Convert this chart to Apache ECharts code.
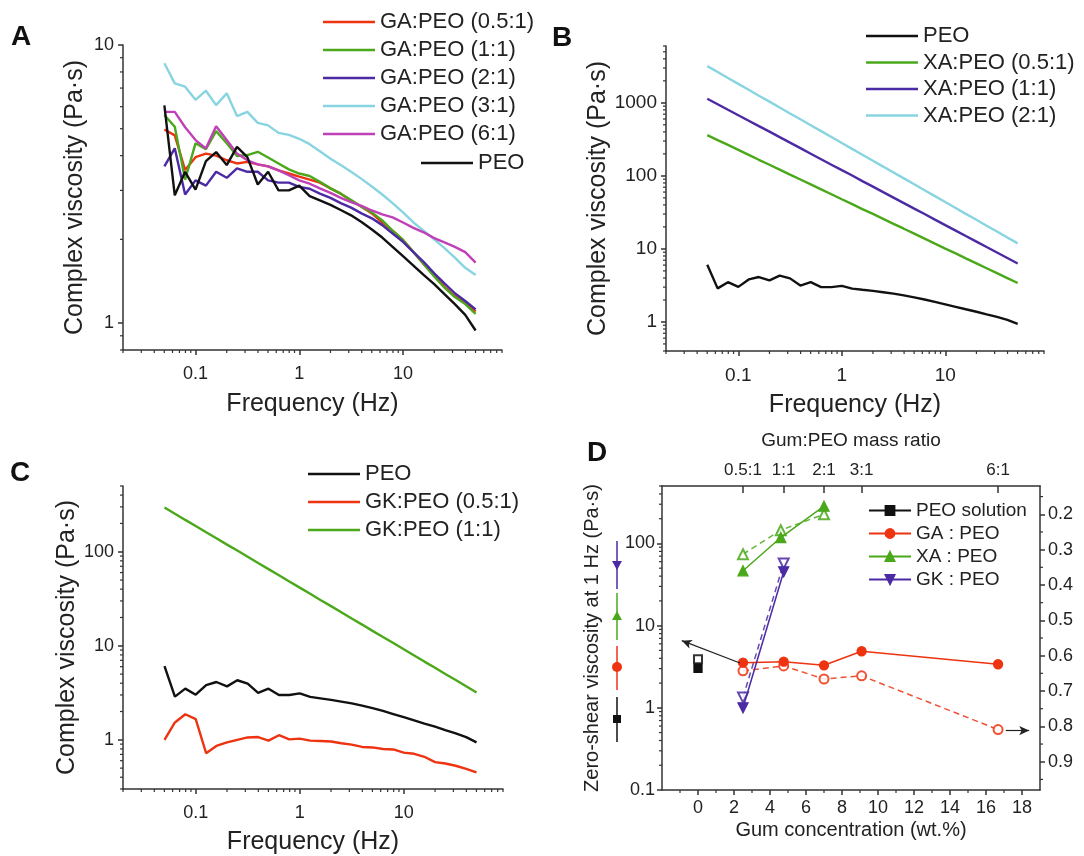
<!DOCTYPE html>
<html><head><meta charset="utf-8">
<script src="https://cdn.jsdelivr.net/npm/echarts@6/dist/echarts.min.js"></script>
<style>html,body{margin:0;padding:0;background:#fff}#chart{width:1084px;height:856px}</style>
</head><body><div id="chart"></div>
<script>
// ---------- DATA ----------
const freq = [0.0501, 0.0631, 0.0794, 0.1, 0.126, 0.158, 0.2, 0.251, 0.316, 0.398, 0.501, 0.631, 0.794, 1, 1.26, 1.58, 2, 2.51, 3.16, 3.98, 5.01, 6.31, 7.94, 10, 12.6, 15.8, 20, 25.1, 31.6, 39.8, 50.1];

const peo = [6.07, 2.88, 3.5, 3.02, 3.82, 4.12, 3.7, 4.3, 3.95, 3.15, 3.5, 3.0, 3.0, 3.12, 2.86, 2.76, 2.66, 2.55, 2.44, 2.31, 2.17, 2.03, 1.88, 1.74, 1.61, 1.49, 1.38, 1.27, 1.17, 1.07, 0.94];

// Panel A: GA:PEO
const ga05 = [4.97, 4.73, 3.55, 3.95, 4.07, 4.0, 3.85, 3.75, 3.8, 3.72, 3.66, 3.54, 3.45, 3.36, 3.28, 3.2, 3.05, 2.92, 2.76, 2.62, 2.48, 2.3, 2.15, 1.99, 1.8, 1.63, 1.49, 1.35, 1.25, 1.18, 1.1];
const ga1 = [5.6, 5.08, 3.28, 4.43, 4.22, 4.9, 4.43, 3.99, 4.02, 4.13, 3.94, 3.75, 3.57, 3.45, 3.38, 3.22, 3.05, 2.92, 2.77, 2.62, 2.5, 2.34, 2.15, 1.99, 1.8, 1.63, 1.47, 1.34, 1.24, 1.17, 1.08];
const ga2 = [3.66, 4.25, 2.9, 3.26, 3.12, 3.5, 3.33, 3.6, 3.5, 3.5, 3.26, 3.2, 3.2, 3.09, 3.04, 2.92, 2.82, 2.7, 2.6, 2.48, 2.38, 2.25, 2.1, 1.96, 1.8, 1.66, 1.51, 1.39, 1.28, 1.2, 1.12];
const ga3 = [8.6, 7.28, 7.08, 6.35, 6.85, 6.08, 6.7, 5.55, 5.75, 5.25, 5.14, 4.83, 4.75, 4.6, 4.4, 4.15, 3.9, 3.7, 3.5, 3.3, 3.1, 2.9, 2.7, 2.5, 2.3, 2.15, 2.0, 1.86, 1.72, 1.58, 1.49];
const ga6 = [5.75, 5.75, 5.06, 4.55, 4.25, 5.1, 4.55, 4.07, 3.85, 3.72, 3.66, 3.54, 3.4, 3.26, 3.17, 3.05, 2.94, 2.82, 2.72, 2.64, 2.54, 2.46, 2.4, 2.3, 2.2, 2.12, 2.02, 1.95, 1.88, 1.8, 1.65];

// Panel B: XA:PEO
const xa05 = [361, 309, 265, 227, 194, 166, 142, 122, 104, 89.2, 76.4, 65.4, 56.0, 47.9, 41.0, 35.1, 30.1, 25.8, 22.0, 18.9, 16.2, 13.8, 11.8, 10.1, 8.67, 7.42, 6.35, 5.44, 4.66, 3.99, 3.41];
const xa1 = [1138, 957, 805, 677, 569, 479, 403, 339, 285, 240, 201, 169, 142, 120, 101, 84.7, 71.2, 59.9, 50.4, 42.4, 35.6, 30.0, 25.2, 21.2, 17.8, 15.0, 12.6, 10.6, 8.92, 7.50, 6.31];
const xa2 = [3180, 2640, 2190, 1820, 1510, 1250, 1040, 863, 716, 595, 494, 410, 340, 282, 234, 195, 161, 134, 111, 92.3, 76.6, 63.6, 52.8, 43.8, 36.4, 30.2, 25.1, 20.8, 17.3, 14.3, 11.9];

// Panel C: GK:PEO
const gk05 = [1.0, 1.53, 1.87, 1.66, 0.72, 0.86, 0.94, 1.0, 1.06, 1.07, 0.98, 1.12, 1.01, 1.03, 0.98, 0.97, 0.96, 0.92, 0.89, 0.84, 0.83, 0.8, 0.79, 0.73, 0.71, 0.66, 0.58, 0.56, 0.53, 0.49, 0.45];
const gk1 = [295, 254, 218, 188, 161, 139, 119, 103, 88.3, 75.9, 65.3, 56.2, 48.3, 41.5, 35.7, 30.7, 26.4, 22.7, 19.5, 16.8, 14.4, 12.4, 10.7, 9.18, 7.89, 6.79, 5.84, 5.02, 4.32, 3.71, 3.19];

// Panel D: viscosity at 1 Hz (left, log) and right-axis values (hollow, dashed)
const dPeoX = [0];
const dPeoVisc = [3.03];
const dPeoRight = [0.61];
const dGaX = [2.5, 4.76, 7.0, 9.09, 16.67];
const dGaVisc = [3.54, 3.64, 3.29, 4.88, 3.39];
const dGaRight = [0.643, 0.629, 0.666, 0.657, 0.809];
const dXaX = [2.5, 4.6, 7.0];
const dXaVisc = [46.5, 118, 284];
const dXaRight = [0.313, 0.245, 0.2];
const dGkX = [2.5, 4.76];
const dGkVisc = [1.0, 45.2];
const dGkRight = [0.718, 0.339];

// Tick labels
const freqTicks = [0.1, 1, 10];
const yTicksA = [1, 10];
const yTicksB = [1, 10, 100, 1000];
const yTicksC = [1, 10, 100];
const yTicksD = [0.1, 1, 10, 100];
const rightTicksD = [0.2, 0.3, 0.4, 0.5, 0.6, 0.7, 0.8, 0.9];
const rightMinorD = [0.15, 0.25, 0.35, 0.45, 0.55, 0.65, 0.75, 0.85, 0.95];
const bottomTicksD = [0, 2, 4, 6, 8, 10, 12, 14, 16, 18];
const bottomMinorD = [-1, 1, 3, 5, 7, 9, 11, 13, 15, 17];
const ratioPos = [2.5, 4.76, 7.0, 9.09, 16.67];
const ratioLabels = ['0.5:1', '1:1', '2:1', '3:1', '6:1'];

// ---------- HELPERS ----------
const FONT = "'Liberation Sans', Arial, sans-serif";
const TXT = '#222';
const AX = {color: '#333', width: 1.5};
const C = {red: '#ee3311', green: '#4aa81a', purple: '#4b2aa3', cyan: '#88d4e0', magenta: '#c040b8', black: '#111'};
const fmt = v => String(+Number(v).toPrecision(6));

function logMinor(lo, hi) {
  const out = [];
  for (let n = Math.floor(Math.log10(lo)); n <= Math.ceil(Math.log10(hi)); n++) {
    for (let k = 2; k <= 9; k++) {
      const v = +(k * Math.pow(10, n)).toPrecision(6);
      if (v >= lo - 1e-12 && v <= hi + 1e-12) out.push(v);
    }
  }
  return out;
}

function freqLine(name, color, ys, idx) {
  return {type: 'line', name, xAxisIndex: idx, yAxisIndex: idx,
    data: freq.map((f, i) => [f, ys[i]]), symbol: 'none',
    lineStyle: {color, width: 2.4}, itemStyle: {color}, animation: false, z: 3};
}

function xLog(grid, fs, gap) {
  return {type: 'log', gridIndex: grid, min: 0.02, max: 90, logBase: 10,
    axisLine: {show: true, onZero: false, lineStyle: AX},
    axisTick: {show: true, length: 5, customValues: freqTicks, lineStyle: AX},
    axisLabel: {customValues: freqTicks, formatter: fmt, fontSize: fs, color: TXT, margin: 15, fontFamily: FONT},
    splitLine: {show: false},
    name: 'Frequency (Hz)', nameLocation: 'middle', nameGap: gap,
    nameTextStyle: {fontSize: 25, color: TXT, fontFamily: FONT}};
}
function yLog(grid, min, max, ticks, fs, gap) {
  return {type: 'log', gridIndex: grid, min, max, logBase: 10,
    axisLine: {show: true, onZero: false, lineStyle: AX},
    axisTick: {show: true, length: 5, customValues: ticks, lineStyle: AX},
    axisLabel: {customValues: ticks, formatter: fmt, fontSize: fs, color: TXT, margin: 9, fontFamily: FONT},
    splitLine: {show: false},
    name: 'Complex viscosity (Pa·s)', nameLocation: 'middle', nameGap: gap, nameRotate: 90,
    nameTextStyle: {fontSize: 25, color: TXT, fontFamily: FONT}};
}

// minor ticks drawn through the axes' own scales
function minorSeries(xi, yi, items) {
  return {type: 'custom', coordinateSystem: 'cartesian2d', xAxisIndex: xi, yAxisIndex: yi,
    clip: false, silent: true, animation: false, z: 6, data: items,
    renderItem: function (params, api) {
      const cs = params.coordSys;
      const p = api.coord([api.value(0), api.value(1)]);
      const k = api.value(2);
      const L = 3;
      let s;
      if (k === 0) s = {x1: p[0], y1: cs.y + cs.height, x2: p[0], y2: cs.y + cs.height + L};
      else if (k === 1) s = {x1: cs.x, y1: p[1], x2: cs.x - L, y2: p[1]};
      else s = {x1: cs.x + cs.width, y1: p[1], x2: cs.x + cs.width + L, y2: p[1]};
      return {type: 'line', shape: s, style: {stroke: '#333', lineWidth: 1.2}};
    }};
}

function legend(left, top, names, opts) {
  return Object.assign({orient: 'vertical', left, top, padding: 0, itemWidth: 52, itemHeight: 2.6, itemGap: 6,
    icon: 'rect', selectedMode: false,
    textStyle: {fontSize: 22, color: TXT, fontFamily: FONT, lineHeight: 22}, data: names}, opts || {});
}

function dSeries(name, xs, ys, yi, color, symbol, size, dashed, rotate) {
  return {type: 'line', name, xAxisIndex: 3, yAxisIndex: yi, data: xs.map((x, i) => [x, ys[i]]),
    symbol, symbolSize: size, symbolRotate: rotate || 0, showSymbol: true,
    lineStyle: {color, width: 1.5, type: dashed ? [6, 4] : 'solid', opacity: dashed ? 0.85 : 1},
    itemStyle: {color, borderColor: color, borderWidth: 1.3, opacity: dashed ? 0.85 : 1},
    animation: false, z: dashed ? 3 : 4};
}

// ---------- CHART ----------
const chart = echarts.init(document.getElementById('chart'), null, {renderer: 'canvas'});

const xMinorLog = logMinor(0.02, 90);
const series = [
  freqLine('GA:PEO (0.5:1)', C.red, ga05, 0),
  freqLine('GA:PEO (1:1)', C.green, ga1, 0),
  freqLine('GA:PEO (2:1)', C.purple, ga2, 0),
  freqLine('GA:PEO (3:1)', C.cyan, ga3, 0),
  freqLine('GA:PEO (6:1)', C.magenta, ga6, 0),
  freqLine('PEO', C.black, peo, 0),

  freqLine('PEO', C.black, peo, 1),
  freqLine('XA:PEO (0.5:1)', C.green, xa05, 1),
  freqLine('XA:PEO (1:1)', C.purple, xa1, 1),
  freqLine('XA:PEO (2:1)', C.cyan, xa2, 1),

  freqLine('PEO', C.black, peo, 2),
  freqLine('GK:PEO (0.5:1)', C.red, gk05, 2),
  freqLine('GK:PEO (1:1)', C.green, gk1, 2),

  // Panel D solid (left axis)
  dSeries('PEO solution', dPeoX, dPeoVisc, 3, C.black, 'rect', 8, false),
  dSeries('GA : PEO', dGaX, dGaVisc, 3, C.red, 'circle', 9, false),
  dSeries('XA : PEO', dXaX, dXaVisc, 3, C.green, 'triangle', 10, false),
  dSeries('GK : PEO', dGkX, dGkVisc, 3, C.purple, 'triangle', 10, false, 180),
  // Panel D hollow dashed (right axis)
  dSeries('PEO solution (right)', dPeoX, dPeoRight, 4, C.black, 'emptyRect', 8, true),
  dSeries('GA : PEO (right)', dGaX, dGaRight, 4, C.red, 'emptyCircle', 9, true),
  dSeries('XA : PEO (right)', dXaX, dXaRight, 4, C.green, 'emptyTriangle', 10, true),
  dSeries('GK : PEO (right)', dGkX, dGkRight, 4, C.purple, 'emptyTriangle', 10, true, 180),

  // minor ticks
  minorSeries(0, 0, xMinorLog.map(v => [v, 1, 0]).concat(logMinor(0.8, 10).map(v => [1, v, 1]))),
  minorSeries(1, 1, xMinorLog.map(v => [v, 1, 0]).concat(logMinor(0.4, 6000).map(v => [1, v, 1]))),
  minorSeries(2, 2, xMinorLog.map(v => [v, 1, 0]).concat(logMinor(0.3, 500).map(v => [1, v, 1]))),
  minorSeries(3, 3, bottomMinorD.map(v => [v, 1, 0]).concat(logMinor(0.1, 500).map(v => [0, v, 1]))),
  minorSeries(3, 4, rightMinorD.map(v => [0, v, 2]))
];

// arrows in panel D (annotations in data coordinates)
series[14].markLine = {silent: true, animation: false, symbol: ['none', 'arrow'], symbolSize: [7, 10],
  lineStyle: {color: '#222', width: 1.2, type: 'solid'}, label: {show: false},
  data: [[{coord: [2.33, 3.51]}, {coord: [-0.9, 6.56]}]]};
series[18].markLine = {silent: true, animation: false, symbol: ['none', 'arrow'], symbolSize: [7, 10],
  lineStyle: {color: '#222', width: 1.2, type: 'solid', opacity: 1}, label: {show: false},
  data: [[{coord: [17.1, 0.812]}, {coord: [18.4, 0.812]}]]};

const option = {
  backgroundColor: '#fff',
  animation: false,
  textStyle: {fontFamily: FONT},
  grid: [
    {left: 123, top: 45, width: 379, height: 305},
    {left: 666, top: 46, width: 378, height: 305},
    {left: 123, top: 486, width: 380, height: 305},
    {left: 662, top: 486, width: 378, height: 304}
  ],
  xAxis: [
    xLog(0, 18, 42),
    xLog(1, 19, 42),
    xLog(2, 18, 41),
    {type: 'value', gridIndex: 3, min: -2, max: 19,
      axisLine: {show: true, onZero: false, lineStyle: AX},
      axisTick: {show: true, length: 5, customValues: bottomTicksD, lineStyle: AX},
      axisLabel: {customValues: bottomTicksD, fontSize: 18, color: TXT, margin: 9, fontFamily: FONT},
      splitLine: {show: false},
      name: 'Gum concentration (wt.%)', nameLocation: 'middle', nameGap: 30,
      nameTextStyle: {fontSize: 20, color: TXT, fontFamily: FONT}},
    {type: 'value', gridIndex: 3, position: 'top', min: -2, max: 19,
      axisLine: {show: true, onZero: false, lineStyle: AX},
      axisTick: {show: true, inside: true, length: 7, customValues: ratioPos, lineStyle: AX},
      axisLabel: {customValues: ratioPos, fontSize: 17, color: TXT, margin: 7, fontFamily: FONT,
        formatter: v => { const i = ratioPos.findIndex(p => Math.abs(p - v) < 1e-6); return i >= 0 ? ratioLabels[i] : ''; }},
      splitLine: {show: false},
      name: 'Gum:PEO mass ratio', nameLocation: 'middle', nameGap: 36,
      nameTextStyle: {fontSize: 19, color: TXT, fontFamily: FONT}}
  ],
  yAxis: [
    yLog(0, 0.8, 10, yTicksA, 18, 35),
    yLog(1, 0.4, 6000, yTicksB, 19, 54),
    yLog(2, 0.3, 500, yTicksC, 18, 43),
    {type: 'log', gridIndex: 3, min: 0.1, max: 500, logBase: 10,
      axisLine: {show: true, onZero: false, lineStyle: AX},
      axisTick: {show: true, length: 5, customValues: yTicksD, lineStyle: AX},
      axisLabel: {customValues: yTicksD, formatter: fmt, fontSize: 18, color: TXT, margin: 7, fontFamily: FONT},
      splitLine: {show: false},
      name: 'Zero-shear viscosity at 1 Hz (Pa·s)', nameLocation: 'middle', nameGap: 60, nameRotate: 90,
      nameTextStyle: {fontSize: 20, color: TXT, fontFamily: FONT}},
    {type: 'value', gridIndex: 3, position: 'right', inverse: true, min: 0.12, max: 0.98,
      axisLine: {show: true, onZero: false, lineStyle: AX},
      axisTick: {show: true, length: 5, customValues: rightTicksD, lineStyle: AX},
      axisLabel: {customValues: rightTicksD, formatter: v => Number(v).toFixed(1), fontSize: 18, color: TXT, margin: 8, fontFamily: FONT},
      splitLine: {show: false}}
  ],
  legend: [
    legend(323, 11, ['GA:PEO (0.5:1)', 'GA:PEO (1:1)', 'GA:PEO (2:1)', 'GA:PEO (3:1)', 'GA:PEO (6:1)']),
    legend(421, 152, ['PEO']),
    legend(866, 25, ['PEO', 'XA:PEO (0.5:1)', 'XA:PEO (1:1)', 'XA:PEO (2:1)'], {itemGap: 4.5}),
    legend(308, 463, ['PEO', 'GK:PEO (0.5:1)', 'GK:PEO (1:1)']),
    legend(868, 501, ['PEO solution', 'GA : PEO', 'XA : PEO', 'GK : PEO'],
      {icon: undefined, itemWidth: 42, itemHeight: 11, itemGap: 4, textStyle: {fontSize: 19, color: TXT, fontFamily: FONT, lineHeight: 19}})
  ],
  graphic: [
    {type: 'text', x: 11, y: 37, style: {text: 'A', fontSize: 28, fontWeight: 'bold', fontFamily: FONT, fill: '#111', verticalAlign: 'middle'}},
    {type: 'text', x: 552, y: 38, style: {text: 'B', fontSize: 28, fontWeight: 'bold', fontFamily: FONT, fill: '#111', verticalAlign: 'middle'}},
    {type: 'text', x: 10, y: 473, style: {text: 'C', fontSize: 28, fontWeight: 'bold', fontFamily: FONT, fill: '#111', verticalAlign: 'middle'}},
    {type: 'text', x: 587, y: 453, style: {text: 'D', fontSize: 28, fontWeight: 'bold', fontFamily: FONT, fill: '#111', verticalAlign: 'middle'}},
    // vertical symbol key next to panel D's y-axis title
    {type: 'line', shape: {x1: 617, y1: 541, x2: 617, y2: 589}, style: {stroke: C.purple, lineWidth: 1.5}},
    {type: 'polygon', shape: {points: [[612, 561], [622, 561], [617, 570]]}, style: {fill: C.purple}},
    {type: 'line', shape: {x1: 617, y1: 593, x2: 617, y2: 640}, style: {stroke: C.green, lineWidth: 1.5}},
    {type: 'polygon', shape: {points: [[612, 620], [622, 620], [617, 611]]}, style: {fill: C.green}},
    {type: 'line', shape: {x1: 617, y1: 646, x2: 617, y2: 690}, style: {stroke: C.red, lineWidth: 1.5}},
    {type: 'circle', shape: {cx: 617, cy: 667, r: 5}, style: {fill: C.red}},
    {type: 'line', shape: {x1: 617, y1: 697, x2: 617, y2: 742}, style: {stroke: C.black, lineWidth: 1.5}},
    {type: 'rect', shape: {x: 613, y: 715, width: 8, height: 8}, style: {fill: C.black}}
  ],
  series
};
chart.setOption(option);
</script>
</body></html>
